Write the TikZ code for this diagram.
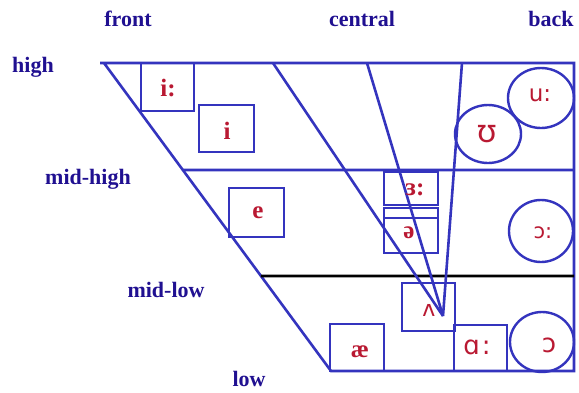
\documentclass[tikz,border=0pt]{standalone}
\usepackage{fontspec}
\setmainfont{Liberation Serif}
\newfontfamily\ipasans{DejaVu Sans}
\newfontfamily\ipaalt{Noto Sans}
\usetikzlibrary{shapes.geometric,calc}
\definecolor{lineblue}{RGB}{52,52,190}
\definecolor{labblue}{RGB}{32,16,145}
\definecolor{phred}{RGB}{185,25,50}
\begin{document}
\begin{tikzpicture}[x=1pt,y=-1pt,
  ln/.style={draw=lineblue, line width=2.6pt},
  box/.style={draw=lineblue, line width=2.6pt, inner sep=0pt, rectangle},
  oval/.style={draw=lineblue, line width=2.4pt, inner sep=0pt, ellipse},
  lab/.style={text=labblue, font=\fontsize{22}{24}\selectfont\bfseries, inner sep=0pt},
  phs/.style={text=phred, font=\fontsize{25}{27}\selectfont\bfseries, inner sep=0pt},
  phx/.style={text=phred, inner sep=0pt}]
\useasboundingbox (0,0) rectangle (579,392);
\fill[white] (0,0) rectangle (579,392);
% frame
\coordinate (tl) at (100,63);
\coordinate (st) at (104,63);
\coordinate (tr) at (574,63);
\coordinate (br) at (574,371);
\coordinate (bl) at (331,371);
\coordinate (mhl) at ($(st)!{107/308}!(bl)$);
\coordinate (mhr) at (574,170);
\coordinate (mll) at ($(st)!{213/308}!(bl)$);
\coordinate (mlr) at (574,276);
\draw[ln, line join=miter] (tl) -- (tr) -- (br) -- (bl) -- (st);
\draw[ln] (mhl) -- (mhr);
\draw[draw=black, line width=2.8pt] (mll) -- (mlr);
% converging lines
\coordinate (apex) at (443,316);
\coordinate (c1) at (273,63);
\coordinate (c2) at (367,63);
\coordinate (c3) at (462,63);
\draw[ln] (c1) -- (apex);
\draw[ln] (c2) -- (apex);
\draw[ln] (c3) -- (apex);
% boxes
\node[box, minimum width=53pt, minimum height=48pt] (bii) at (167.5,87) {};
\node[box, minimum width=55pt, minimum height=47pt] (bi) at (226.5,128.5) {};
\node[box, minimum width=55pt, minimum height=49pt] (be) at (256.5,212.5) {};
\node[box, minimum width=54pt, minimum height=33pt] (ber) at (411,188.5) {};
\node[box, minimum width=54pt, minimum height=45pt] (bschwa) at (411,230.5) {};
\coordinate (sl) at (384,218);
\coordinate (sr) at (438,218);
\draw[draw=lineblue, line width=2.2pt] (sl) -- (sr);
\node[box, minimum width=53pt, minimum height=48pt] (bv) at (428.5,307) {};
\node[box, minimum width=54pt, minimum height=47pt] (bae) at (357,347.5) {};
\node[box, minimum width=53pt, minimum height=46pt] (baa) at (480.5,348) {};
% ovals
\node[oval, minimum width=64pt, minimum height=60pt] (oo) at (542,342) {};
\node[oval, minimum width=64pt, minimum height=62pt] (ooo) at (541,231) {};
\node[oval, minimum width=66pt, minimum height=60pt] (ouu) at (541,98) {};
\node[oval, minimum width=66pt, minimum height=58pt] (ou) at (488,134) {};
% phonetic symbols
\node[phs] (tii) at (168,88) {i:};
\node[phs] (ti) at (227,131) {i};
\node[phs] (te) at (258,213) {e};
\node[phs] (ter) at (415,190) {ɜ:};
\node[phs] (tschwa) at (409,233) {ə};
\node[phs] (tae) at (360,352) {æ};
\node[phx, font=\ipasans\fontsize{22}{24}\selectfont] (tv) at (429,310) {ʌ};
\node[phx, font=\ipasans\fontsize{26}{28}\selectfont] (taa) at (477,347) {ɑ\kern2pt:};
\node[phx, font=\ipasans\fontsize{26}{28}\selectfont] (too) at (549,345) {ɔ};
\node[phx, font=\ipasans\fontsize{21}{23}\selectfont] (tooo) at (543,233) {ɔ:};
\node[phx, font=\ipasans\fontsize{23}{25}\selectfont] (tuu) at (540,95) {u:};
\node[phx, font=\ipaalt\fontsize{32}{34}\selectfont] (tu) at (487,134) {ʊ};
% labels
\node[lab] (lfront) at (128,19) {front};
\node[lab] (lcentral) at (362,19) {central};
\node[lab] (lback) at (551,19) {back};
\node[lab] (lhigh) at (33,67) {high};
\node[lab] (lmidhigh) at (88,179) {mid-high};
\node[lab] (lmidlow) at (166,290) {mid-low};
\node[lab] (llow) at (249,379) {low};
\end{tikzpicture}
\end{document}
